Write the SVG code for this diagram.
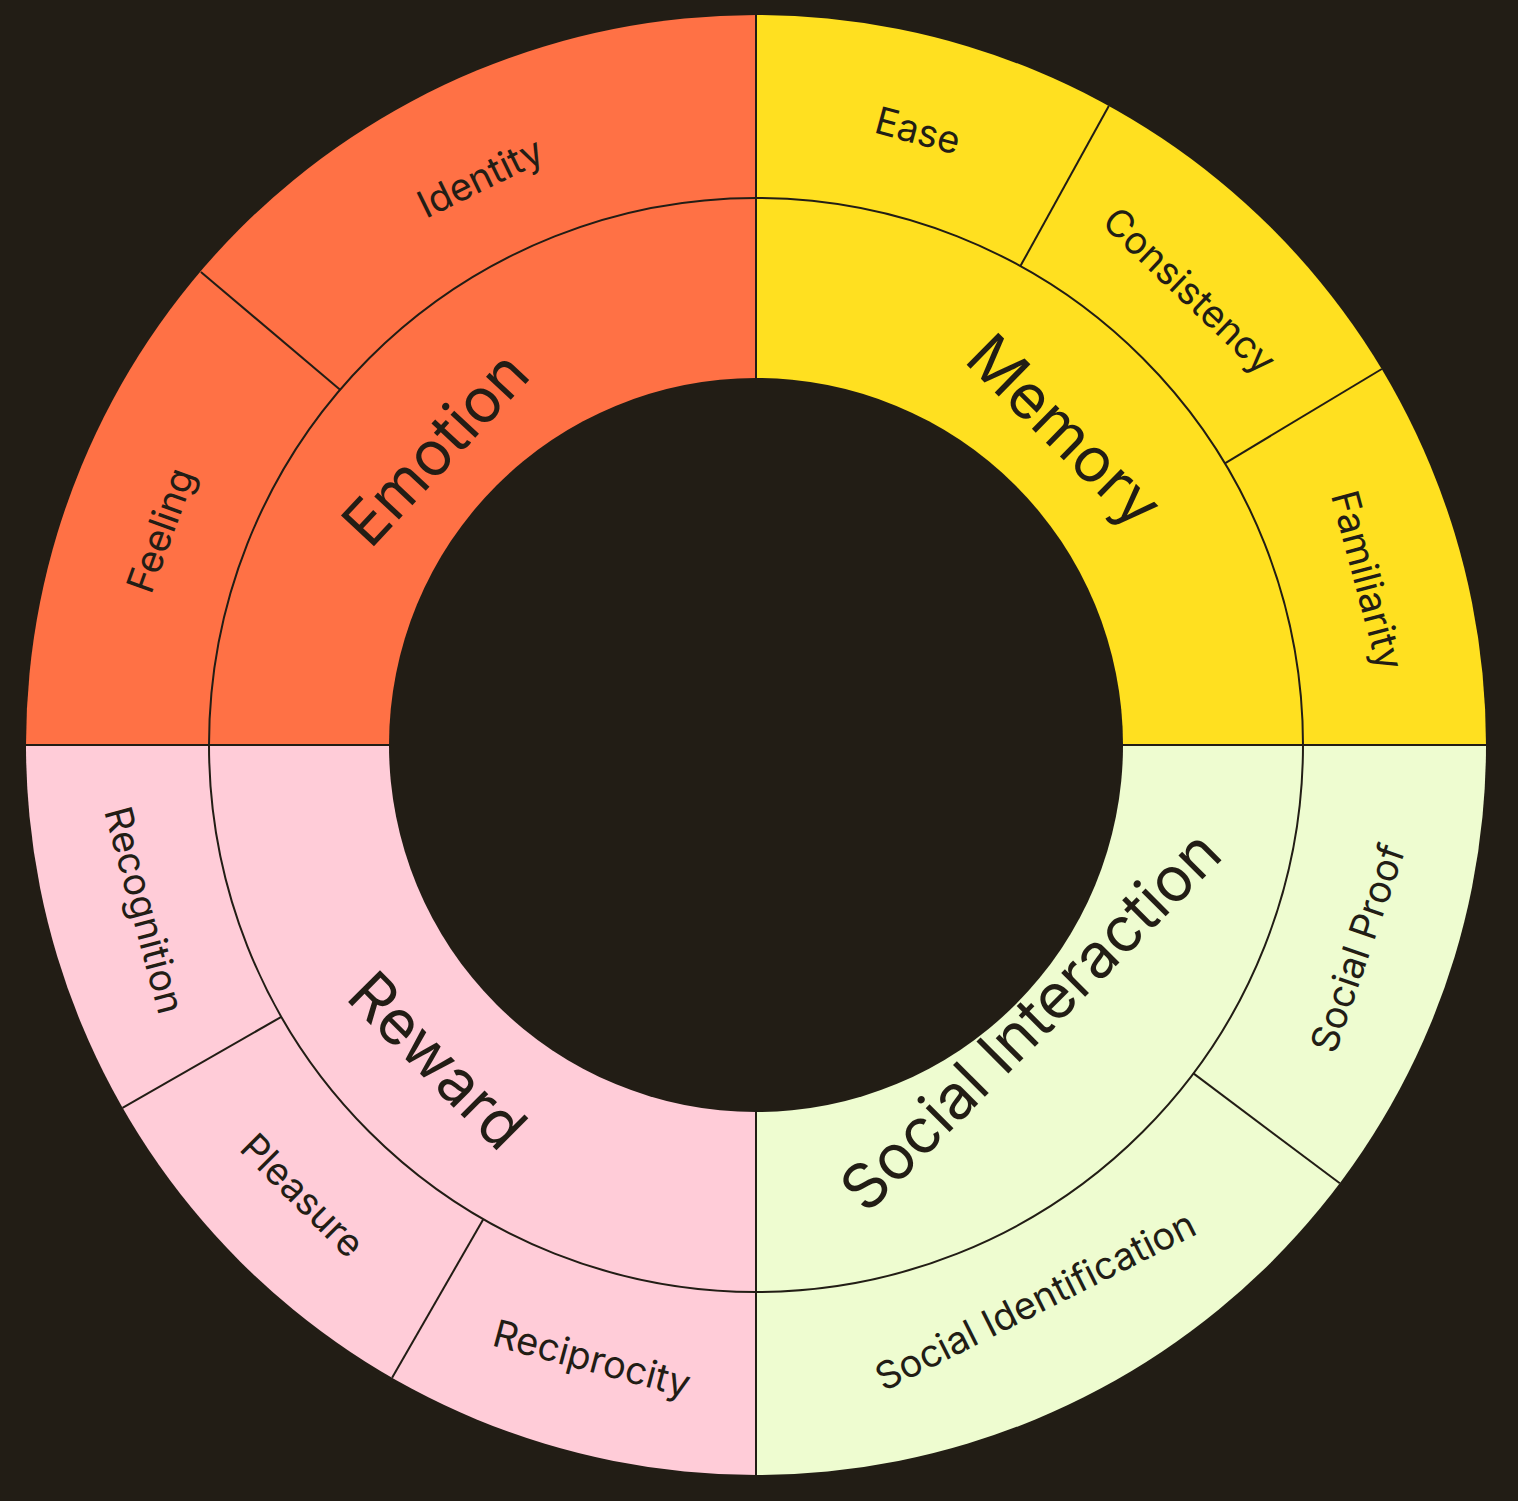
<svg xmlns="http://www.w3.org/2000/svg" width="1518" height="1501" viewBox="0 0 1518 1501">
<style>
.ln{stroke:#221D15;stroke-width:2;fill:none}
text{font-family:Inter,"Noto Sans",sans-serif;fill:#221D15;text-anchor:middle;dominant-baseline:central}
.o{font-size:38px}
.i{font-size:62px}
</style>
<rect width="1518" height="1501" fill="#221D15"/>
<g id="sectors">
<path id="emotion-q" d="M756 745 L756 15 A730 730 0 0 0 26 745 Z" fill="#FF7145"/>
<path id="memory-q" d="M756 745 L756 15 A730 730 0 0 1 1486 745 Z" fill="#FFE020"/>
<path id="social-q" d="M756 745 L1486 745 A730 730 0 0 1 756 1475 Z" fill="#EEFCD0"/>
<path id="reward-q" d="M756 745 L756 1475 A730 730 0 0 1 26 745 Z" fill="#FFCCD8"/>
</g>
<g id="connectors">
<circle class="ln" cx="756" cy="745" r="547"/>
<line class="ln" x1="756" y1="15" x2="756" y2="1475"/>
<line class="ln" x1="26" y1="745" x2="1486" y2="745"/>
<line class="ln" x1="340.1" y1="389.8" x2="200.9" y2="271.9"/>
<line class="ln" x1="1020.4" y1="266.1" x2="1108.8" y2="105.9"/>
<line class="ln" x1="1224.9" y1="463.3" x2="1381.8" y2="369"/>
<line class="ln" x1="1193.4" y1="1073.4" x2="1339.8" y2="1183.3"/>
<line class="ln" x1="483.3" y1="1219.2" x2="392.1" y2="1377.8"/>
<line class="ln" x1="281.3" y1="1016.9" x2="122.5" y2="1107.8"/>
<circle cx="756" cy="745" r="367" fill="#221D15"/>
</g>
<g id="emotion"><text class="i" transform="translate(435,448) rotate(-47)">Emotion</text></g>
<g id="identity"><text class="o" transform="translate(480,177) rotate(-26)">Identity</text></g>
<g id="feeling"><text class="o" transform="translate(160,530) rotate(-70)">Feeling</text></g>
<g id="memory"><text class="i" transform="translate(1065,430) rotate(44.5)">Memory</text></g>
<g id="ease"><text class="o" transform="translate(918,130) rotate(15)">Ease</text></g>
<g id="consistency"><text class="o" transform="translate(1190,290) rotate(43.6)">Consistency</text></g>
<g id="familiarity"><text class="o" transform="translate(1368,580) rotate(75)">Familiarity</text></g>
<g id="social-interaction"><text class="i" transform="translate(1030,1020) rotate(-45)">Social Interaction</text></g>
<g id="social-proof"><text class="o" transform="translate(1357,948) rotate(-71)">Social Proof</text></g>
<g id="social-identification"><text class="o" transform="translate(1035,1300) rotate(-26.7)">Social Identification</text></g>
<g id="reward"><text class="i" transform="translate(438,1060) rotate(45)">Reward</text></g>
<g id="recognition"><text class="o" transform="translate(145,910) rotate(75)">Recognition</text></g>
<g id="pleasure"><text class="o" transform="translate(303,1195) rotate(45)">Pleasure</text></g>
<g id="reciprocity"><text class="o" transform="translate(592,1358) rotate(15)">Reciprocity</text></g>
</svg>
